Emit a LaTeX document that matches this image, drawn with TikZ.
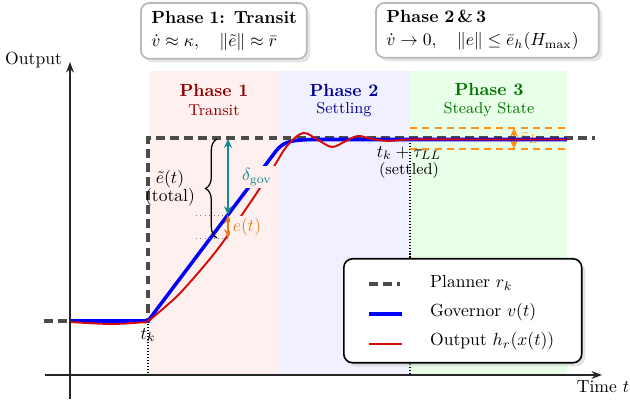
\documentclass[tikz,border=0pt]{standalone}
\usepackage{amsmath,amssymb}
\usetikzlibrary{arrows.meta,decorations.pathreplacing,shadows}

\definecolor{plannergray}{RGB}{75,75,75}
\definecolor{outred}{RGB}{215,10,10}
\definecolor{govteal}{RGB}{20,135,135}
\definecolor{errorange}{RGB}{225,125,30}
\definecolor{bandorange}{RGB}{255,145,20}

\begin{document}
\begin{tikzpicture}[x=0.02cm,y=-0.02cm,
  planner/.style={plannergray, line width=1.9pt, dash pattern=on 5pt off 3pt},
  governor/.style={blue, line width=2pt},
  output/.style={outred, line width=1.1pt},
  axis/.style={black!85, line width=0.8pt, -{Stealth[length=6pt,width=4.5pt]}},
  marker/.style={black, densely dotted, line width=0.7pt},
  guide/.style={gray, dotted, line width=0.5pt},
  twohead/.style={line width=0.9pt, {Stealth[length=5pt,width=4.5pt]}-{Stealth[length=5pt,width=4.5pt]}},
  masked/.style={fill=red!6, inner sep=1.5pt},
  infobox/.style={draw=gray!55, line width=1pt, rounded corners=5pt, fill=white,
    align=left, inner xsep=6pt, inner ysep=3pt, anchor=north west,
    drop shadow={shadow xshift=2pt, shadow yshift=-2pt, fill=gray!40}},
  legendbox/.style={draw=black, line width=0.9pt, rounded corners=5pt, fill=white,
    anchor=north west, drop shadow={shadow xshift=2pt, shadow yshift=-2pt, fill=gray!45}},
  phasetitle/.style={font=\bfseries},
  phasesub/.style={font=\small}]

\useasboundingbox (0,0) rectangle (630,408);

% phase shading
\fill[red!6]   (149,71) rectangle (279,375);
\fill[blue!6]  (279,71) rectangle (410,375);
\fill[green!9] (410,71) rectangle (567,375);

\node[phasetitle, text=red!55!black]   (p1t) at (214,90) {Phase 1};
\node[phasesub,   text=red!55!black]   (p1s) at (214,110) {Transit};
\node[phasetitle, text=blue!55!black]  (p2t) at (344,90) {Phase 2};
\node[phasesub,   text=blue!55!black]  (p2s) at (344,110) {Settling};
\node[phasetitle, text=green!45!black] (p3t) at (489,90) {Phase 3};
\node[phasesub,   text=green!45!black] (p3s) at (489,110) {Steady State};

% key time instants
\coordinate (tkbase) at (148,375);
\coordinate (tkjump) at (148,321);
\coordinate (tsbase) at (410,375);
\coordinate (tstop)  at (410,140);
\draw[marker] (tkjump) -- (tkbase);
\draw[marker] (tstop) -- (tsbase);

% steady-state band
\coordinate (bandL1) at (410,128); \coordinate (bandR1) at (567,128);
\coordinate (bandL2) at (410,149); \coordinate (bandR2) at (567,149);
\draw[bandorange, line width=0.8pt, dash pattern=on 4pt off 3pt] (bandL1) -- (bandR1);
\draw[bandorange, line width=0.8pt, dash pattern=on 4pt off 3pt] (bandL2) -- (bandR2);
\coordinate (epsT) at (514,128);
\coordinate (epsB) at (514,149);
\draw[twohead, bandorange] (epsT) -- (epsB);
\node[text=bandorange!85, anchor=west, inner sep=1pt] (epslab) at (518,138) {$\varepsilon_L$};

% planner reference
\coordinate (pstart) at (44,321);
\coordinate (pcorner) at (148,138);
\coordinate (pend) at (595,138);
\draw[planner] (pstart) -- (tkjump) -- (pcorner) -- (pend);

% governor
\draw[governor] (70,321) -- (148,321) -- (276,151)
  .. controls (284,141) and (292,140) .. (315,139.5) -- (567,139.5);

% plant output
\draw[output] plot[smooth, tension=0.55] coordinates {
  (70,322) (110,324) (140,322.5) (148,321) (165,307) (183,290) (217,250)
  (250,203) (273,168) (287,146) (303,133) (318,140) (332,147) (346,141)
  (358,136) (372,139) (390,141) (410,139.5) (480,139.5) (567,139.5)};

% transit annotations
\coordinate (gtop) at (228,139);
\coordinate (gmid) at (228,215);
\coordinate (gbot) at (228,238);
\coordinate (hl1) at (196,215);
\coordinate (hl2) at (196,238);
\draw[guide] (hl1) -- (gmid);
\draw[guide] (hl2) -- (gbot);
\draw[twohead, govteal] (gtop) -- (gmid);
\draw[twohead, errorange] (gmid) -- (gbot);
\node[masked, text=govteal] (dgov) at (257,177) {$\delta_{\mathrm{gov}}$};
\node[masked, text=errorange] (elab) at (247,227) {$e(t)$};

\coordinate (brB) at (217,238);
\coordinate (brT) at (217,139);
\draw[decorate, decoration={brace, amplitude=6.5pt}, line width=0.7pt] (brB) -- (brT);
\node (etil) at (170,179) {$\tilde e(t)$};
\node (etot) at (170,197) {(total)};

% time labels
\node (tk) at (148,335) {$t_k$};
\node (ts1) at (409,153) {$t_k+\tau_{LL}$};
\node[font=\small] (ts2) at (409,171) {(settled)};

% axes
\coordinate (xo) at (45,375);
\coordinate (xe) at (602,375);
\coordinate (yo) at (70,399);
\coordinate (ye) at (70,62);
\draw[axis] (xo) -- (xe);
\draw[axis] (yo) -- (ye);
\node[anchor=east, inner sep=1pt] (ylab) at (64,60) {Output};
\node (xlab) at (603,387) {Time $t$};

% phase summaries
\node[infobox, minimum width=3.32cm, minimum height=1.12cm, text width=3.32cm-12pt] (box1) at (140,2)
  {\mbox{\textbf{Phase 1:\enspace Transit}}\\[1pt]$\dot v\approx\kappa,\quad\|\tilde e\|\approx\bar r$};
\node[infobox, minimum width=4.46cm, minimum height=1.1cm, text width=4.46cm-12pt] (box2) at (375,2)
  {\textbf{Phase 2\,\&\,3}\\[1pt]$\dot v\to 0,\quad\|e\|\le\bar e_h(H_{\max})$};

% legend
\node[legendbox, minimum width=4.76cm, minimum height=2.08cm] (legend) at (343,258) {};
\coordinate (l1a) at (369,284); \coordinate (l1b) at (400,284);
\coordinate (l2a) at (369,314); \coordinate (l2b) at (402,314);
\coordinate (l3a) at (369,344); \coordinate (l3b) at (402,344);
\draw[planner] (l1a) -- (l1b);
\draw[governor] (l2a) -- (l2b);
\draw[output] (l3a) -- (l3b);
\node[anchor=west] (lt1) at (424,283) {Planner $r_k$};
\node[anchor=west] (lt2) at (424,312) {Governor $v(t)$};
\node[anchor=west] (lt3) at (424,341) {Output $h_r(x(t))$};

\end{tikzpicture}
\end{document}
